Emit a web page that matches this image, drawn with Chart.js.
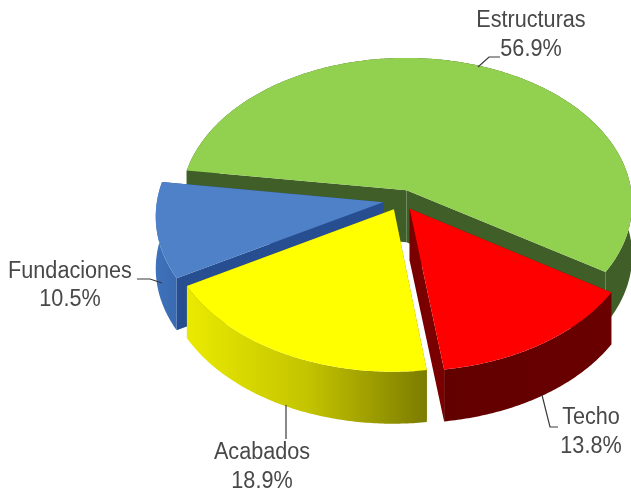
<!DOCTYPE html>
<html>
<head>
<meta charset="utf-8">
<style>
html, body { margin: 0; padding: 0; background: #fff; overflow: hidden; }
canvas { display: block; }
</style>
<script src="https://cdn.jsdelivr.net/npm/chart.js@4/dist/chart.umd.min.js"></script>
</head>
<body>
<canvas id="cost-chart" width="631" height="491"></canvas>
<script>
// Data
let categories = ['Estructuras', 'Techo', 'Acabados', 'Fundaciones'];
let shares = [56.9, 13.8, 18.9, 10.5];

// Styles for each slice, same order as categories
let topColors = ['#92d050', '#ff0000', '#ffff00', '#4f81c8'];
let innerWallColors = ['#3f5e28', '#7a0000', '#7f7f00', '#264e90'];
let outerWallStops = [
  ['#3f5e28', '#3f5e28'],
  ['#620000', '#6a0000'],
  ['#eaea00', '#c4c400', '#7c7c00'],
  ['#3f72bc', '#3a6ab0']
];
let explode = [60, 60, 60, 68];
// back slices first so the nearer ones paint over them
let paintOrder = [0, 3, 1, 2];

// Tilted disc: maps the flat pie onto the screen with a little perspective
let disc = { x: 401, y: 200, rx: 226, ry: 146, persp: 0.09, depth: 52 };

// Label anchors and leader lines
let labelSpots = [
  { x: 531, y: 21, y2: 50 },
  { x: 591, y: 418, y2: 447 },
  { x: 262, y: 453, y2: 482 },
  { x: 70, y: 272, y2: 300 }
];
let leaders = [
  [[478, 67], [489, 57], [500, 57]],
  [[542, 395], [550, 427], [558, 427]],
  [[286, 405], [286, 439]],
  [[137, 279], [150, 279], [162, 283]]
];

function project(u, v) {
  let w = 1 - disc.persp * v;
  return { x: disc.x + disc.rx * u / w, y: disc.y + disc.ry * v / w };
}

// Outline of one slice from the arc element the library laid out
function sliceOutline(arc) {
  let r = arc.outerRadius;
  let mid = (arc.startAngle + arc.endAngle) / 2;
  let shift = (arc.options.offset || 0) / 4;
  let ox = Math.cos(mid) * shift / r;
  let oy = Math.sin(mid) * shift / r;
  let rim = [];
  let steps = Math.ceil((arc.endAngle - arc.startAngle) * 90);
  for (let i = 0; i <= steps; i++) {
    let a = arc.startAngle + (arc.endAngle - arc.startAngle) * i / steps;
    rim.push(project(ox + Math.cos(a), oy + Math.sin(a)));
  }
  return { apex: project(ox, oy), rim: rim };
}

function fillPath(ctx, pts, fill) {
  ctx.beginPath();
  pts.forEach((p, i) => i ? ctx.lineTo(p.x, p.y) : ctx.moveTo(p.x, p.y));
  ctx.closePath();
  ctx.fillStyle = fill;
  ctx.fill();
}

function down(p) {
  return { x: p.x, y: p.y + disc.depth };
}

// The labels in the picture are tall and a bit narrow
function squeezedText(ctx, text, x, y) {
  ctx.fillText(text, x, y, ctx.measureText(text).width * 0.94);
}

let pie3d = {
  id: 'pie3d',
  beforeDatasetsDraw(chart) {
    let ctx = chart.ctx;
    let arcs = chart.getDatasetMeta(0).data;
    paintOrder.forEach(i => {
      let { apex, rim } = sliceOutline(arcs[i]);
      let first = rim[0];
      let last = rim[rim.length - 1];

      // cut faces
      fillPath(ctx, [apex, first, down(first), down(apex)], innerWallColors[i]);
      fillPath(ctx, [apex, last, down(last), down(apex)], innerWallColors[i]);

      // curved outer wall
      let xs = rim.map(p => p.x);
      let grad = ctx.createLinearGradient(Math.min(...xs), 0, Math.max(...xs), 0);
      outerWallStops[i].forEach((c, n) => grad.addColorStop(n / (outerWallStops[i].length - 1), c));
      fillPath(ctx, rim.concat(rim.map(down).reverse()), grad);

      // top face
      fillPath(ctx, [apex].concat(rim), topColors[i]);
    });
    // the flat default arcs are replaced by the tilted ones above
    return false;
  },
  afterDraw(chart) {
    let ctx = chart.ctx;
    ctx.save();
    ctx.strokeStyle = '#3a3a3a';
    ctx.lineWidth = 1.2;
    leaders.forEach(line => {
      ctx.beginPath();
      line.forEach((p, i) => i ? ctx.lineTo(p[0], p[1]) : ctx.moveTo(p[0], p[1]));
      ctx.stroke();
    });
    ctx.fillStyle = '#484848';
    ctx.font = '23px "Liberation Sans"';
    ctx.textAlign = 'center';
    ctx.textBaseline = 'middle';
    categories.forEach((name, i) => {
      squeezedText(ctx, name, labelSpots[i].x, labelSpots[i].y);
      squeezedText(ctx, shares[i].toFixed(1) + '%', labelSpots[i].x, labelSpots[i].y2);
    });
    ctx.restore();
  }
};

let costChart = new Chart(document.getElementById('cost-chart').getContext('2d'), {
  type: 'pie',
  data: {
    labels: categories,
    datasets: [{
      data: shares,
      backgroundColor: topColors,
      borderWidth: 0,
      offset: explode
    }]
  },
  options: {
    responsive: false,
    animation: false,
    rotation: 278,
    layout: { padding: 0 },
    plugins: { legend: { display: false }, tooltip: { enabled: false } }
  },
  plugins: [pie3d]
});
</script>
</body>
</html>
